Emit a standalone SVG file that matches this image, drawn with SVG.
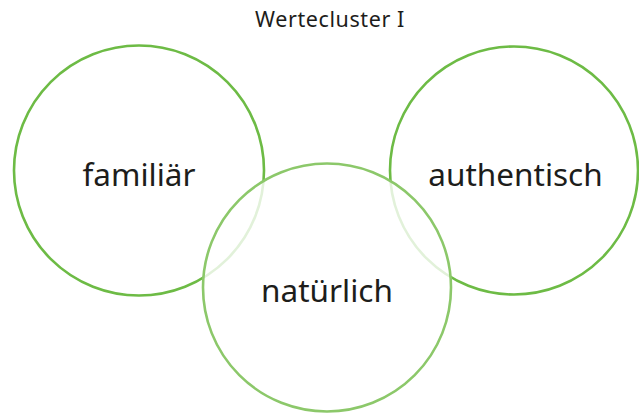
<svg xmlns="http://www.w3.org/2000/svg" width="639" height="415" viewBox="0 0 639 415">
<style>
.c{fill:none;stroke:#6dbb45;stroke-width:2.6}
.m{fill:#ffffff;fill-opacity:0.8;stroke:#8cc86a;stroke-width:2.6}
.t{font-family:"Noto Sans","Open Sans",sans-serif;fill:#1d1d1b;text-anchor:middle}
</style>
<rect width="639" height="415" fill="#ffffff"/>
<text class="t" x="330" y="27" font-size="21.5" letter-spacing="0.6">Wertecluster I</text>
<g id="familiaer"><circle class="c" cx="139" cy="170.5" r="125"/></g>
<g id="authentisch"><circle class="c" cx="514" cy="170.5" r="124"/></g>
<g id="natuerlich"><circle class="m" cx="327" cy="287.5" r="124"/></g>
<g id="labels">
<text class="t" x="139" y="186" font-size="31.5">familiär</text>
<text class="t" x="515.5" y="186" font-size="31.5">authentisch</text>
<text class="t" x="327" y="302" font-size="31.5">natürlich</text>
</g>
<g id="connectors"/>
</svg>
